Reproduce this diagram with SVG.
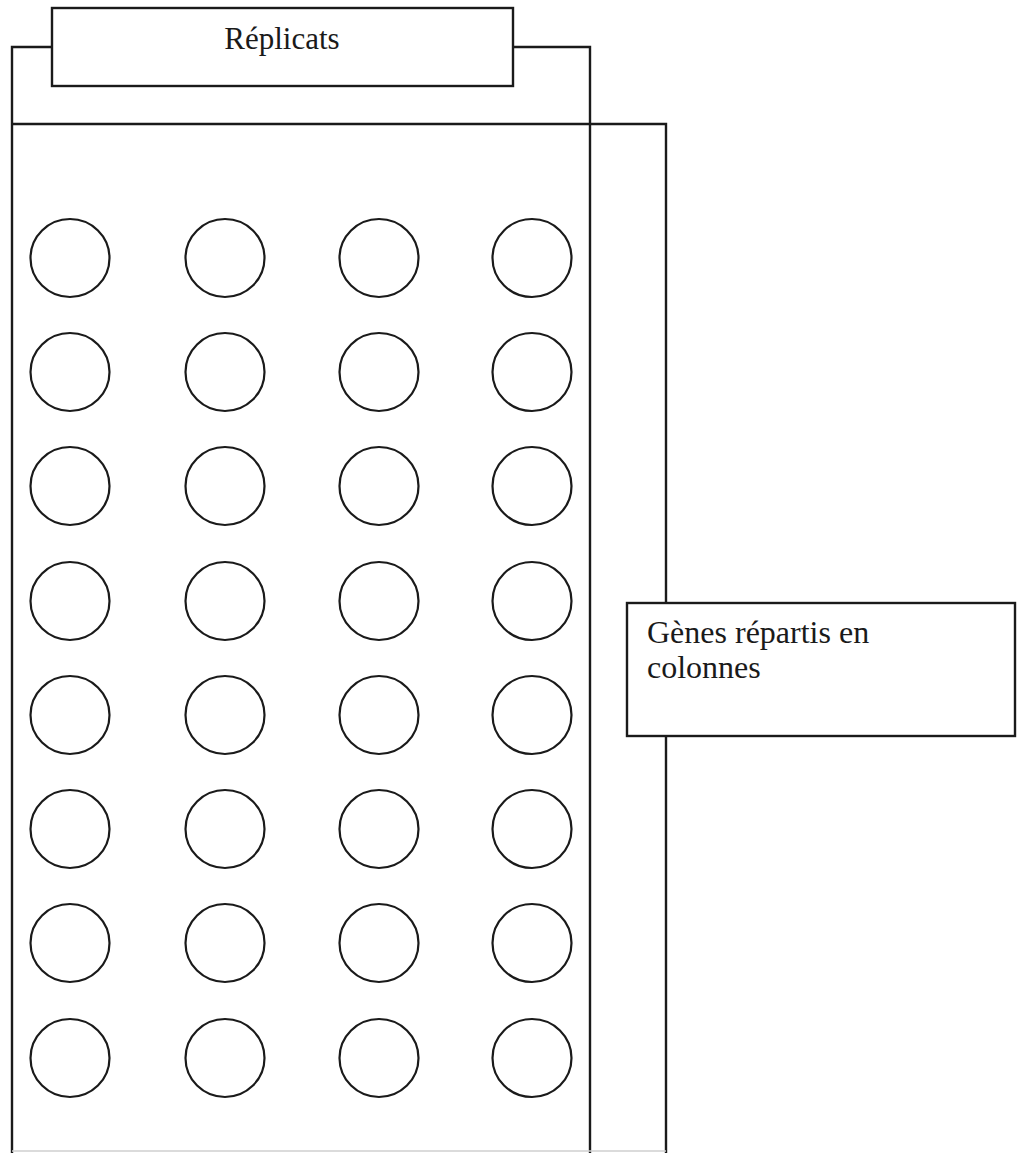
<svg xmlns="http://www.w3.org/2000/svg" width="1024" height="1153" viewBox="0 0 1024 1153">
  <style>
    .ln { fill: none; stroke: #1a1a1a; stroke-width: 2.4; }
    .box { fill: #ffffff; stroke: #1a1a1a; stroke-width: 2.4; }
    .well { fill: #ffffff; stroke: #1a1a1a; stroke-width: 2.2; }
    .lbl { font-family: "Liberation Serif", "Times New Roman", serif; font-size: 31px; fill: #1a1a1a; }
    .lbl2 { font-family: "Liberation Serif", "Times New Roman", serif; font-size: 32px; fill: #1a1a1a; }
  </style>
  <defs>
    <ellipse id="w" cx="0" cy="0" rx="39.5" ry="39" class="well"/>
  </defs>
  <rect x="0" y="0" width="1024" height="1153" fill="#ffffff"/>

  <g id="connectors">
    <path class="ln" d="M12,1153 V47 H52 M513,47 H590 V1153"/>
  </g>

  <g id="plate">
    <path class="ln" d="M12,124 H666 V1153"/>
    <path d="M12,1151 H666" fill="none" stroke="#cfcfcf" stroke-width="1.5"/>
  </g>

  <g id="wells">
    <g id="row1">
      <use href="#w" x="70" y="258"/><use href="#w" x="225" y="258"/><use href="#w" x="379" y="258"/><use href="#w" x="532" y="258"/>
    </g>
    <g id="row2">
      <use href="#w" x="70" y="372"/><use href="#w" x="225" y="372"/><use href="#w" x="379" y="372"/><use href="#w" x="532" y="372"/>
    </g>
    <g id="row3">
      <use href="#w" x="70" y="486"/><use href="#w" x="225" y="486"/><use href="#w" x="379" y="486"/><use href="#w" x="532" y="486"/>
    </g>
    <g id="row4">
      <use href="#w" x="70" y="601"/><use href="#w" x="225" y="601"/><use href="#w" x="379" y="601"/><use href="#w" x="532" y="601"/>
    </g>
    <g id="row5">
      <use href="#w" x="70" y="715"/><use href="#w" x="225" y="715"/><use href="#w" x="379" y="715"/><use href="#w" x="532" y="715"/>
    </g>
    <g id="row6">
      <use href="#w" x="70" y="829"/><use href="#w" x="225" y="829"/><use href="#w" x="379" y="829"/><use href="#w" x="532" y="829"/>
    </g>
    <g id="row7">
      <use href="#w" x="70" y="943"/><use href="#w" x="225" y="943"/><use href="#w" x="379" y="943"/><use href="#w" x="532" y="943"/>
    </g>
    <g id="row8">
      <use href="#w" x="70" y="1058"/><use href="#w" x="225" y="1058"/><use href="#w" x="379" y="1058"/><use href="#w" x="532" y="1058"/>
    </g>
  </g>

  <g id="replicats">
    <rect class="box" x="52" y="8" width="461" height="78"/>
    <text class="lbl" x="282" y="49" text-anchor="middle">Réplicats</text>
  </g>

  <g id="genes">
    <rect class="box" x="627" y="603" width="388" height="133"/>
    <text class="lbl2" x="647" y="643">Gènes répartis en</text>
    <text class="lbl2" x="647" y="678">colonnes</text>
  </g>
</svg>
